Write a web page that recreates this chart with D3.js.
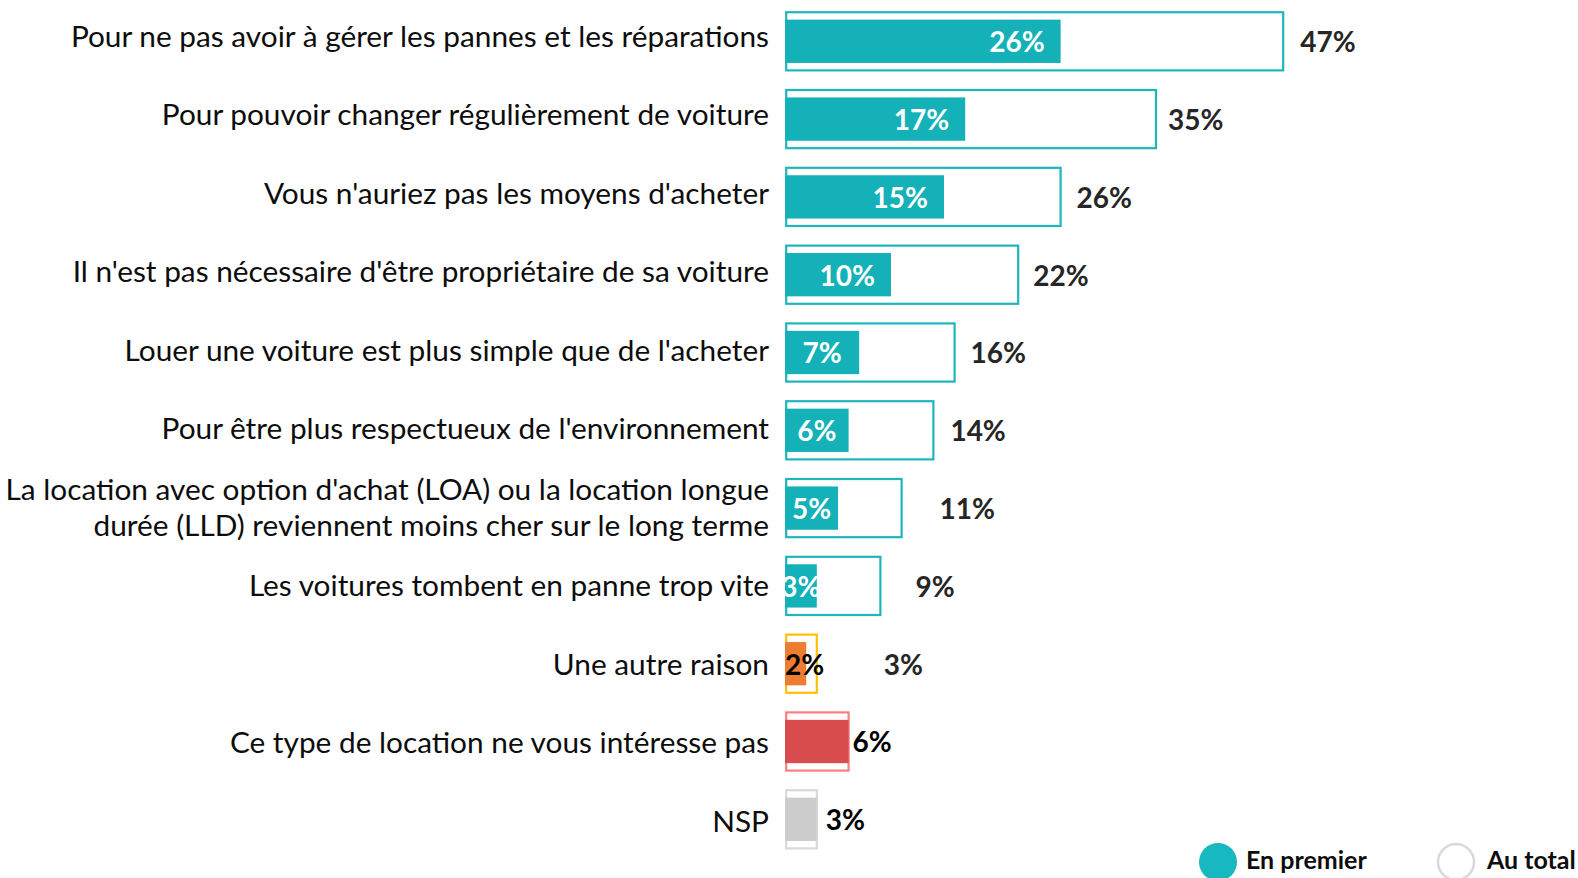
<!DOCTYPE html>
<html>
<head>
<meta charset="utf-8">
<script src="https://cdn.jsdelivr.net/npm/d3@7"></script>
<style>
html,body{margin:0;padding:0;background:#fff;}
svg{display:block;}
</style>
</head>
<body>
<svg id="chart" width="1578" height="878"></svg>
<script>
// ---- DATA ----
const categories = [
  "Pour ne pas avoir à gérer les pannes et les réparations",
  "Pour pouvoir changer régulièrement de voiture",
  "Vous n'auriez pas les moyens d'acheter",
  "Il n'est pas nécessaire d'être propriétaire de sa voiture",
  "Louer une voiture est plus simple que de l'acheter",
  "Pour être plus respectueux de l'environnement",
  "La location avec option d'achat (LOA) ou la location longue|durée (LLD) reviennent moins cher sur le long terme",
  "Les voitures tombent en panne trop vite",
  "Une autre raison",
  "Ce type de location ne vous intéresse pas",
  "NSP"
];
const enPremier = [26, 17, 15, 10, 7, 6, 5, 3, 2, 6, 3];
const auTotal   = [47, 35, 26, 22, 16, 14, 11, 9, 3, 6, 3];
const seriesNames = ["En premier", "Au total"];

// ---- STYLE / LAYOUT (not data) ----
const teal = "#14B1B8", tealStroke = "#1FB5BD";
const rowStyle = categories.map((c, i) => {
  if (i <= 7) return {fill: teal, stroke: tealStroke, innerLabel: "white", innerMode: "insideEnd", outerGap: [17,12,16,15,16,17,38,35][i]};
  if (i === 8) return {fill: "#ED7D31", stroke: "#FFC000", innerLabel: "#000", innerMode: "start", outerGap: 67};
  if (i === 9) return {fill: "#D94C4E", stroke: "#FF7C80", innerLabel: null, outerGap: 4, outerColor: "#000"};
  return {fill: "#CCCCCC", stroke: "#D9D9D9", innerLabel: null, outerGap: 9, outerColor: "#000"};
});

const svg = d3.select("#chart");
const x0 = 785;
const x = d3.scaleLinear().domain([0, 47]).range([x0, x0 + 47 * 10.6]);
const y = d3.scaleBand().domain(d3.range(categories.length)).range([2.4, 858.2]).paddingInner(0.224).paddingOuter(0.112);
const innerH = 43.3;

svg.append("defs").append("clipPath").attr("id", "plotclip")
  .append("rect").attr("x", x0 - 4).attr("y", 0).attr("width", 800).attr("height", 878);

const rows = svg.append("g").selectAll("g.row").data(categories).join("g").attr("class", "row");

// outer (Au total) bars
rows.append("rect")
  .attr("x", x0 + 1.2)
  .attr("y", (d, i) => y(i) + 1.1)
  .attr("width", (d, i) => x(auTotal[i]) - x0 - 1.2)
  .attr("height", y.bandwidth() - 2.2)
  .attr("fill", "white")
  .attr("stroke", (d, i) => rowStyle[i].stroke)
  .attr("stroke-width", 2.2);

// inner (En premier) bars
rows.append("rect")
  .attr("x", x0)
  .attr("y", (d, i) => y(i) + y.bandwidth() / 2 - innerH / 2)
  .attr("width", (d, i) => x(enPremier[i]) - x0)
  .attr("height", innerH)
  .attr("fill", (d, i) => rowStyle[i].fill);

// inner labels
const labFont = "Lato, 'Open Sans', sans-serif";
const lg = svg.append("g").attr("clip-path", "url(#plotclip)");
categories.forEach((c, i) => {
  const st = rowStyle[i];
  if (!st.innerLabel) return;
  const cy = y(i) + y.bandwidth() / 2;
  const t = lg.append("text")
    .attr("y", cy + 10.8)
    .attr("font-family", labFont)
    .attr("font-weight", 700)
    .attr("font-size", 28)
    .attr("fill", st.innerLabel)
    .text(enPremier[i] + "%");
  if (st.innerMode === "insideEnd") {
    const tw = t.node().getComputedTextLength();
    const bw = x(enPremier[i]) - x0;
    if (bw < tw + 40) {
      t.attr("x", x0 + bw / 2).attr("text-anchor", "middle");
    } else {
      t.attr("x", x(enPremier[i]) - 16).attr("text-anchor", "end");
    }
  } else {
    t.attr("x", x0).attr("text-anchor", "start");
  }
});

// outer labels
categories.forEach((c, i) => {
  const st = rowStyle[i];
  const cy = y(i) + y.bandwidth() / 2;
  svg.append("text")
    .attr("x", x(auTotal[i]) + st.outerGap)
    .attr("y", cy + 10.8)
    .attr("font-family", labFont)
    .attr("font-weight", 700)
    .attr("font-size", 28)
    .attr("fill", st.outerColor || "#262626")
    .text(auTotal[i] + "%");
});

// category labels (slight downward drift relative to bars, as in the reference)
categories.forEach((c, i) => {
  const cy = y(i) + y.bandwidth() / 2 + 5.5 + i * 0.7;
  const lines = c.split("|");
  const t = svg.append("text")
    .attr("text-anchor", "end")
    .attr("font-family", labFont)
    .attr("font-size", 29.8)
    .attr("fill", "#0D0D0D");
  if (lines.length === 1) {
    t.append("tspan").attr("x", 769).attr("y", cy).text(lines[0]);
  } else {
    t.append("tspan").attr("x", 769).attr("y", cy - 18.2).text(lines[0]);
    t.append("tspan").attr("x", 769).attr("y", cy + 18.2).text(lines[1]);
  }
});

// legend
const leg = svg.append("g");
leg.append("circle").attr("cx", 1218).attr("cy", 862).attr("r", 19).attr("fill", "#17B8C0");
leg.append("text").attr("x", 1246).attr("y", 869).attr("font-family", labFont).attr("font-weight", 700)
  .attr("font-size", 25).attr("fill", "#0D0D0D").text(seriesNames[0]);
leg.append("circle").attr("cx", 1456).attr("cy", 862).attr("r", 18).attr("fill", "white")
  .attr("stroke", "#D9D9D9").attr("stroke-width", 2.5);
leg.append("text").attr("x", 1487).attr("y", 869).attr("font-family", labFont).attr("font-weight", 700)
  .attr("font-size", 25).attr("fill", "#0D0D0D").text(seriesNames[1]);
</script>
</body>
</html>
